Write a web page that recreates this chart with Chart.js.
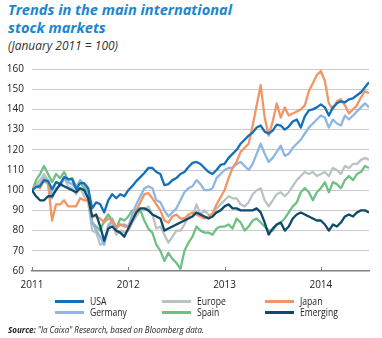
<!DOCTYPE html>
<html>
<head>
<meta charset="utf-8">
<script src="https://cdn.jsdelivr.net/npm/chart.js@4/dist/chart.umd.min.js"></script>
<style>
  body { margin: 0; width: 382px; height: 338px; background: #fff; font-family: 'Open Sans', sans-serif; position: relative; overflow: hidden; }
  .t { position: absolute; left: 8px; white-space: nowrap; line-height: 1; transform-origin: 0 0; }
  .title { font-size: 15px; font-weight: 700; font-style: italic; color: #1a86cf; }
  .sub { font-size: 12px; font-style: italic; color: #333; }
  .src { font-size: 9.5px; font-style: italic; color: #222; }
  #wrap { position: absolute; left: 0; top: 55px; width: 382px; height: 240px; }
  .lg { position: absolute; font-size: 10px; line-height: 1; color: #222; white-space: nowrap; transform: scaleX(0.86); transform-origin: 0 0; }
  .sw { position: absolute; height: 3px; width: 29px; }
</style>
</head>
<body>
<div class="t title" id="t1" data-w="224" style="top:2px">Trends in the main international</div>
<div class="t title" id="t2" style="top:20px">stock markets</div>
<div class="t sub" data-w="110" style="top:40px">(January 2011 = 100)</div>
<div id="wrap"><canvas id="chart" width="382" height="240"></canvas></div>
<div id="legend"></div>
<div class="t src" data-w="196" style="top:325px"><b>Source:</b> "la Caixa" Research, based on Bloomberg data.</div>

<script>
// half-monthly points, Jan 2011 to end of June 2014
const periods = []
for (let k = 0; k <= 84; k++) periods.push(2011 + k / 24)

const yearTicks = [2011, 2012, 2013, 2014]

// index values (January 2011 = 100)
const usa = [
  100, 101.5, 102, 105, 104.5, 100.5, 104, 103, 106.5, 105.5, 105.5, 100.5, 103.5, 103.5, 101, 91, 94, 93, 89, 95, 98, 96, 98, 97,
  100, 102, 104.5, 106.5, 108.5, 111, 111, 109, 108, 102.5, 103, 105, 106, 108, 109, 111.5, 113.5, 114, 113, 111, 109, 108, 110, 112.5,
  113, 116, 118, 120, 123, 125, 127, 128.5, 131, 132, 129, 128, 129.5, 132.5, 132, 130, 131.5, 134, 135, 131, 136.5, 139.5, 140, 141,
  142.5, 141, 137, 141, 143, 144, 143.5, 145, 145.5, 147, 148.5, 151, 153.5
]
const europe = [
  100, 103, 105, 108, 105, 99, 104, 103, 106, 102, 101, 98, 101, 97, 94, 80, 79, 73, 74, 83, 84, 78, 80, 79,
  80, 84, 87, 90, 90, 92, 88, 81, 82, 78, 74, 77, 80, 80, 83, 87, 87, 93, 88, 90, 88, 87, 91, 93,
  95, 97, 96, 96, 93, 92, 94, 98, 100, 101, 95, 92, 95, 98, 99, 97, 99, 102, 105, 107, 109, 108, 109, 107,
  108, 109, 107, 111, 110, 108, 112, 111, 113, 113, 115, 116, 115
]
const japan = [
  100, 102, 101, 105, 103, 85, 93, 93, 95, 92, 92, 92, 96, 95, 95, 87, 87, 86, 84, 86, 85, 82, 83, 82,
  82, 85, 90, 94, 98, 98.5, 96, 93, 90, 85, 84, 87, 88, 86, 86, 88, 89, 88, 87, 86, 87, 88.5, 93, 96.5,
  100, 106, 111, 114, 119, 121, 123, 132, 142, 152, 136, 127, 134, 143, 136, 141, 137, 138, 139, 140, 142, 149, 153, 157,
  159, 154, 143, 140, 144, 145, 142, 138, 140, 142, 146, 149, 148
]
const germany = [
  100, 102, 103, 106, 104, 96, 101, 102, 106, 104, 103, 101, 105, 103, 100, 84, 80, 77, 73, 81, 86, 81, 83, 83,
  82, 88, 93, 97, 101, 102, 101, 95, 94, 90, 87, 89, 91, 95, 99, 101, 102, 105, 103, 100, 100, 101, 106, 108,
  110, 111, 111, 113, 114, 112, 110, 113, 118, 123, 118, 114, 116, 119, 122, 117, 118, 121, 123, 125, 128, 131, 133, 135,
  137, 136, 131, 135, 133, 132, 137, 135, 137, 139, 141, 143, 141
]
const spain = [
  99, 105, 108, 112, 108, 104, 108, 106, 109, 105, 106, 102, 104, 101, 99, 84, 82, 80, 85, 88, 85, 81, 86, 85,
  87, 90, 90, 90, 85, 81, 79, 73, 70, 65, 69, 66, 64, 61, 70, 74, 77, 82, 80, 79, 79, 78, 81, 82,
  82, 83, 81, 86, 84, 80, 82, 85, 86, 84, 82, 80, 80, 83, 84, 86, 89, 92, 94, 99, 101, 99, 95, 99,
  101, 104, 99, 104, 103, 101, 105, 107, 105, 108, 109, 112, 111
]
const emerging = [
  100, 97, 95, 95, 97, 97, 100, 103, 102, 101, 100, 99, 101, 100, 96, 87, 88, 82, 75, 81, 82, 80, 79, 77,
  81, 85, 89, 91, 91, 90, 88, 87, 86, 80, 81, 82, 83, 84, 85, 86, 87, 89, 88, 87, 86, 87, 89, 90,
  92, 93, 91, 91, 90, 90, 90, 90, 91, 89, 84, 78, 81, 83, 84, 80, 82, 86, 88, 89, 88, 87, 86, 85,
  85, 83, 80, 83, 82, 84, 87, 88, 87, 89, 90, 90, 89
]

// legend order (3 columns x 2 rows)
const series = [
  { name: 'USA', data: usa, color: '#1170b8' },
  { name: 'Europe', data: europe, color: '#b9c3c6' },
  { name: 'Japan', data: japan, color: '#f39562' },
  { name: 'Germany', data: germany, color: '#8cb6e4' },
  { name: 'Spain', data: spain, color: '#6fc083' },
  { name: 'Emerging', data: emerging, color: '#0d4a6b' }
]
// drawing order, first one on top
const zOrder = ['Emerging', 'USA', 'Japan', 'Germany', 'Spain', 'Europe']

// html legend
const legend = document.getElementById('legend')
const colX = [55, 162, 265]
const rowY = [300, 311]
series.forEach((s, i) => {
  const x = colX[i % 3], y = rowY[Math.floor(i / 3)]
  const sw = document.createElement('div')
  sw.className = 'sw'
  sw.style.left = x + 'px'
  sw.style.top = y + 'px'
  sw.style.background = s.color
  legend.appendChild(sw)
  const lb = document.createElement('div')
  lb.className = 'lg'
  lb.style.left = (x + 35) + 'px'
  lb.style.top = (y - 4) + 'px'
  lb.textContent = s.name
  legend.appendChild(lb)
})

function fitTexts () {
  document.querySelectorAll('[data-w]').forEach(el => {
    el.style.transform = 'none'
    const w = el.getBoundingClientRect().width
    el.style.transform = 'scaleX(' + (el.dataset.w / w) + ')'
  })
  document.getElementById('t2').style.transform = document.getElementById('t1').style.transform
}
fitTexts()
if (document.fonts) document.fonts.ready.then(fitTexts)

// small upward tick marks on the time axis
const upTicks = {
  id: 'upTicks',
  beforeDatasetsDraw (chart) {
    const { ctx, chartArea, scales: { x } } = chart
    ctx.save()
    ctx.strokeStyle = '#808080'
    ctx.lineWidth = 1
    yearTicks.forEach(v => {
      const px = Math.round(x.getPixelForValue(v)) + 0.5
      ctx.beginPath()
      ctx.moveTo(px, chartArea.bottom)
      ctx.lineTo(px, chartArea.bottom - 4)
      ctx.stroke()
    })
    ctx.restore()
  }
}

Chart.defaults.font.family = "'Open Sans', sans-serif"

new Chart(document.getElementById('chart'), {
  type: 'line',
  data: {
    datasets: zOrder.map(name => {
      const s = series.find(d => d.name === name)
      return {
        label: s.name,
        data: s.data.map((v, i) => ({ x: periods[i], y: v })),
        borderColor: s.color,
        backgroundColor: s.color,
        borderWidth: 2.3,
        pointRadius: 0,
        tension: 0,
        borderJoinStyle: 'round',
        fill: false
      }
    })
  },
  options: {
    responsive: false,
    animation: false,
    devicePixelRatio: 1,
    layout: { padding: { left: 0, right: 13, top: 12, bottom: 0 } },
    plugins: { legend: { display: false }, tooltip: { enabled: false } },
    scales: {
      x: {
        type: 'linear',
        min: 2011,
        max: 2014.5,
        afterBuildTicks: s => { s.ticks = yearTicks.map(v => ({ value: v })) },
        afterFit: s => { s.height = 24 },
        grid: { drawOnChartArea: false, drawTicks: false },
        border: { color: '#808080', width: 1.5 },
        ticks: { autoSkip: false, maxRotation: 0, padding: 8, color: '#222', font: { size: 10 }, callback: v => String(v) }
      },
      y: {
        min: 60,
        max: 160,
        afterFit: s => { s.width = 32 },
        grid: { drawTicks: false, color: ctx => ctx.tick.value === 60 ? 'rgba(0,0,0,0)' : '#cccccc', lineWidth: 1 },
        border: { display: false },
        ticks: { stepSize: 10, padding: 8, color: '#222', font: { size: 10 } }
      }
    }
  },
  plugins: [upTicks]
})
</script>
</body>
</html>
